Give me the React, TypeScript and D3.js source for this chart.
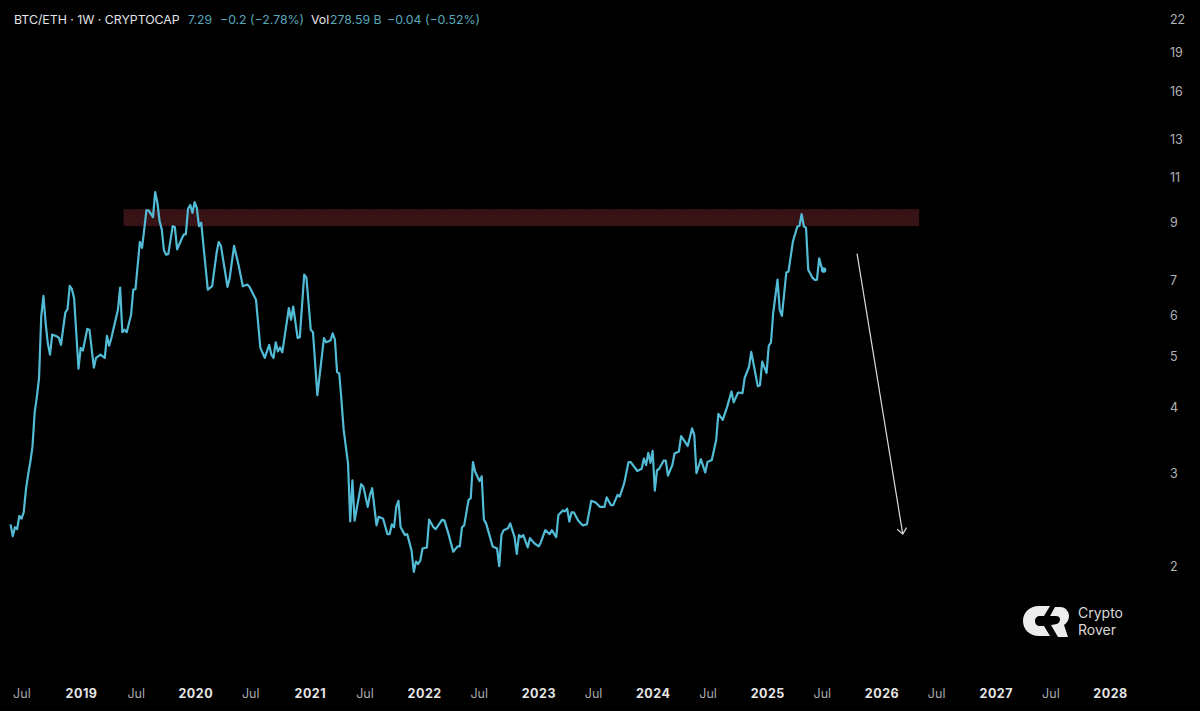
import { useEffect, useRef } from 'react';
import * as d3 from 'd3';

const WIDTH = 1200;
const HEIGHT = 711;

// first bar of the weekly series
const seriesStart = new Date(Date.UTC(2018, 4, 21));

// week number since seriesStart, and the BTC/ETH close for that week
const weeks = [
  0, 1, 2, 3, 4, 5, 6, 7, 8, 9, 10, 11, 12, 13, 14, 15, 16, 17, 18, 19, 21, 22, 23, 25, 26, 27, 28, 29, 31, 32, 33, 35, 36, 38, 39, 41, 43, 44, 45, 46, 49, 50, 51, 52, 53, 55, 56, 57, 59, 60, 61, 62, 63, 65, 66, 67, 68, 69, 70, 71, 72, 74, 75, 76, 78, 79, 80, 81, 82, 83, 84, 85, 86, 87,
  90, 92, 94, 95, 96, 99, 100, 102, 104, 106, 108, 109, 112, 114, 116, 118, 119, 120, 121, 122, 123, 124, 127, 128, 129, 131, 132, 134, 135, 137, 138, 140, 143, 144, 146, 147, 148, 149, 150, 151, 152, 154, 155, 156, 157, 160, 161, 163, 164, 165, 167, 168, 170, 172, 173, 174, 175, 176, 177, 178, 180, 181, 183, 184, 185, 186, 187, 188, 190, 191, 193, 194, 197, 198,
  200, 202, 204, 205, 206, 207, 209, 210, 211, 212, 214, 215, 216, 217, 220, 222, 223, 224, 225, 227, 228, 230, 231, 232, 233, 234, 236, 237, 239, 241, 242, 244, 246, 247, 249, 250, 252, 253, 254, 255, 256, 257, 259, 261, 263, 265, 267, 269, 271, 272, 274, 275, 277, 278, 280, 282, 283, 286, 288, 289, 290, 291, 292, 293, 294, 295, 296, 298, 299,
  300, 302, 303, 305, 306, 309, 311, 312, 313, 315, 317, 318, 320, 322, 323, 325, 327, 329, 330, 332, 334, 335, 337, 338, 341, 342, 343, 345, 346, 347, 348, 350, 351, 352, 354, 355, 357, 359, 360, 361, 362, 363, 364, 366, 367, 368, 369, 370, 371,
];
const closes = [
  2.39, 2.27, 2.36, 2.34, 2.48, 2.45, 2.52, 2.78, 2.97, 3.14, 3.36, 3.9, 4.18, 4.54, 5.95, 6.51, 5.78, 5.28, 5.03, 5.49, 5.45, 5.42, 5.25, 6.05, 6.14, 6.8, 6.7, 6.44, 4.73, 5.18, 5.12, 5.63, 5.61, 4.75, 4.96, 5.03, 4.96, 5.46, 5.23, 5.41, 6.12, 6.75, 5.55, 5.61, 5.55, 5.99, 6.69, 6.7, 8.25, 8.03, 8.71, 9.47, 9.47, 9.19, 10.26, 9.79, 9.03, 8.71, 7.94, 7.79, 7.82, 8.84, 8.79, 7.98, 8.34, 8.51, 8.53, 9.54, 9.69, 9.36, 9.82, 9.56, 8.83, 8.97,
  6.69, 6.79, 7.85, 8.24, 8.1, 6.77, 7.04, 8.1, 7.46, 6.79, 6.84, 6.77, 6.4, 5.18, 4.96, 5.25, 5.03, 4.96, 5.31, 5.1, 5.19, 5.08, 6.17, 5.86, 6.21, 5.41, 5.43, 7.14, 7.05, 5.61, 5.55, 4.21, 5.41, 5.31, 5.35, 5.52, 5.37, 4.66, 4.63, 4.12, 3.62, 3.12, 2.42, 2.9, 2.43, 2.85, 2.82, 2.58, 2.72, 2.8, 2.38, 2.47, 2.45, 2.29, 2.29, 2.39, 2.36, 2.58, 2.65, 2.36, 2.28, 2.29, 2.13, 1.94, 2.03, 2.01, 2.04, 2.15, 2.16, 2.44, 2.36, 2.34, 2.44, 2.43,
  2.28, 2.12, 2.17, 2.17, 2.36, 2.38, 2.66, 2.68, 3.14, 3.01, 2.89, 2.95, 2.44, 2.4, 2.17, 2.15, 1.99, 2.28, 2.33, 2.35, 2.4, 2.26, 2.1, 2.28, 2.26, 2.28, 2.16, 2.25, 2.2, 2.17, 2.21, 2.33, 2.29, 2.33, 2.26, 2.49, 2.54, 2.53, 2.56, 2.42, 2.52, 2.52, 2.43, 2.38, 2.39, 2.65, 2.63, 2.58, 2.58, 2.69, 2.6, 2.6, 2.72, 2.7, 2.86, 3.14, 3.14, 3.02, 3.05, 3.19, 3.1, 3.27, 3.13, 3.3, 2.77, 3.03, 3.05, 3.16, 3.16,
  2.96, 3.1, 3.26, 3.29, 3.52, 3.37, 3.64, 3.54, 2.99, 3.18, 3.0, 3.14, 3.17, 3.46, 3.88, 3.78, 4.0, 4.28, 4.08, 4.26, 4.25, 4.54, 4.77, 5.09, 4.38, 4.4, 4.88, 4.64, 5.23, 5.3, 6.03, 6.99, 6.12, 5.96, 7.21, 7.24, 8.25, 8.81, 8.85, 9.31, 8.83, 8.77, 7.3, 7.04, 6.98, 6.99, 7.67, 7.39, 7.29,
];

const priceTicks = [2, 3, 4, 5, 6, 7, 9, 11, 13, 16, 19, 22];

const timeLabels = ['Jul', '2019', 'Jul', '2020', 'Jul', '2021', 'Jul', '2022', 'Jul', '2023', 'Jul', '2024', 'Jul', '2025', 'Jul', '2026', 'Jul', '2027', 'Jul', '2028'];
const timeTicks = timeLabels.map((_, i) => new Date(Date.UTC(2018, 6 + i * 6, 1)));

// resistance zone and projected move
const zoneStart = new Date(Date.UTC(2019, 4, 18));
const zoneEnd = new Date(Date.UTC(2026, 3, 30));
const zoneHigh = 9.5;
const zoneLow = 8.85;
const arrowFrom = { date: new Date(Date.UTC(2025, 9, 15)), value: 7.83 };
const arrowTo = { date: new Date(Date.UTC(2026, 2, 10)), value: 2.29 };

const headerParts = [
  { x: 14, text: 'BTC/ETH · 1W · CRYPTOCAP', color: '#e4e6ea' },
  { x: 188, text: '7.29', color: '#58a8ba' },
  { x: 220, text: '−0.2 (−2.78%)', color: '#58a8ba' },
  { x: 311, text: 'Vol', color: '#e4e6ea' },
  { x: 330, text: '278.59 B', color: '#58a8ba' },
  { x: 387, text: '−0.04 (−0.52%)', color: '#58a8ba' },
];

const FONT = 'Inter, "Liberation Sans", sans-serif';
const LINE = '#52bbd6';

export default function App() {
  const svgRef = useRef<SVGSVGElement>(null);

  useEffect(() => {
    if (!svgRef.current) return;
    const svg = d3.select(svgRef.current);
    svg.selectAll('*').remove();

    const x = d3.scaleUtc()
      .domain([new Date(Date.UTC(2019, 0, 1)), new Date(Date.UTC(2028, 0, 1))])
      .range([81, 1110]);
    const y = d3.scaleLog().domain([2, 22]).range([565, 18]);

    const points = weeks.map((w, i) => ({
      date: d3.utcWeek.offset(seriesStart, w),
      value: closes[i],
    }));

    svg.append('rect')
      .attr('width', WIDTH)
      .attr('height', HEIGHT)
      .attr('fill', '#000');

    // Resistance zone
    svg.append('rect')
      .attr('x', x(zoneStart))
      .attr('y', y(zoneHigh))
      .attr('width', x(zoneEnd) - x(zoneStart))
      .attr('height', y(zoneLow) - y(zoneHigh))
      .attr('fill', '#381316')
      .attr('stroke', '#5f2027')
      .attr('stroke-width', 1)
      .attr('stroke-dasharray', '1 2');

    // Price line
    const line = d3.line<{ date: Date; value: number }>()
      .x((d) => x(d.date))
      .y((d) => y(d.value));

    svg.append('path')
      .datum(points)
      .attr('d', line)
      .attr('fill', 'none')
      .attr('stroke', LINE)
      .attr('stroke-width', 2.2)
      .attr('stroke-linejoin', 'round');

    const last = points[points.length - 1];
    svg.append('circle')
      .attr('cx', x(last.date))
      .attr('cy', y(last.value))
      .attr('r', 2.8)
      .attr('fill', LINE);

    // Projection arrow
    const ax1 = x(arrowFrom.date);
    const ay1 = y(arrowFrom.value);
    const ax2 = x(arrowTo.date);
    const ay2 = y(arrowTo.value);
    const angle = Math.atan2(ay2 - ay1, ax2 - ax1);
    const head = 7.5;
    svg.append('path')
      .attr('d', `M${ax1},${ay1}L${ax2},${ay2}`
        + `M${ax2 + Math.cos(angle + 2.45) * head},${ay2 + Math.sin(angle + 2.45) * head}`
        + `L${ax2},${ay2}`
        + `L${ax2 + Math.cos(angle - 2.45) * head},${ay2 + Math.sin(angle - 2.45) * head}`)
      .attr('fill', 'none')
      .attr('stroke', '#dcdcdc')
      .attr('stroke-width', 1.2);

    // Price axis
    const yAxis = svg.append('g')
      .attr('transform', 'translate(1170,1)')
      .call(d3.axisRight(y).tickValues(priceTicks).tickFormat((d) => String(d)).tickSize(0).tickPadding(0));
    yAxis.select('.domain').remove();
    yAxis.selectAll('text')
      .attr('fill', '#b0b2b6')
      .attr('font-size', '12.5px')
      .attr('font-family', FONT);

    // Time axis
    const xAxis = svg.append('g')
      .attr('transform', 'translate(0,689)')
      .call(d3.axisBottom(x).tickValues(timeTicks).tickFormat((_, i) => timeLabels[i]).tickSize(0).tickPadding(0));
    xAxis.select('.domain').remove();
    xAxis.selectAll<SVGTextElement, Date>('text')
      .attr('x', (_, i) => (i % 2 ? 0 : -2))
      .attr('fill', (_, i) => (i % 2 ? '#e6e6e6' : '#a6a8ad'))
      .attr('font-weight', (_, i) => (i % 2 ? 700 : 400))
      .attr('font-size', '12.5px')
      .attr('letter-spacing', (_, i) => (i % 2 ? '0.04em' : '0'))
      .attr('font-family', FONT);

    // Header line
    svg.append('g')
      .selectAll('text')
      .data(headerParts)
      .join('text')
      .attr('x', (d) => d.x)
      .attr('y', 24)
      .attr('fill', (d) => d.color)
      .attr('font-size', '12.3px')
      .attr('font-family', FONT)
      .text((d) => d.text);

    // Watermark
    const logo = svg.append('g').attr('fill', '#ececec');
    logo.append('path')
      .attr('d', 'M1050,606 L1039,606 C1029,606 1023,613 1023,621 C1023,629 1029,636 1039,636 L1050,636 L1044,626 L1040,626 C1037,626 1035,624 1035,621 C1035,618 1037,616 1040,616 L1044,616 Z');
    logo.append('path')
      .attr('d', 'M1055,607 L1060,607 C1066,607 1069,612 1069,616 C1069,620 1067,623 1064,625 L1068,637 L1058,637 L1051,625 L1057,624 C1059,623 1060,621 1060,619 C1060,617 1058,616 1056,616 L1050,616 Z');
    logo.selectAll('text')
      .data(['Crypto', 'Rover'])
      .join('text')
      .attr('x', 1078)
      .attr('y', (_, i) => 618 + i * 16.5)
      .attr('fill', '#d8d8d8')
      .attr('font-size', '14px')
      .attr('font-family', FONT)
      .text((d) => d);
  }, []);

  return <svg ref={svgRef} width={WIDTH} height={HEIGHT} style={{ position: 'absolute', left: 0, top: 0 }} />;
}
